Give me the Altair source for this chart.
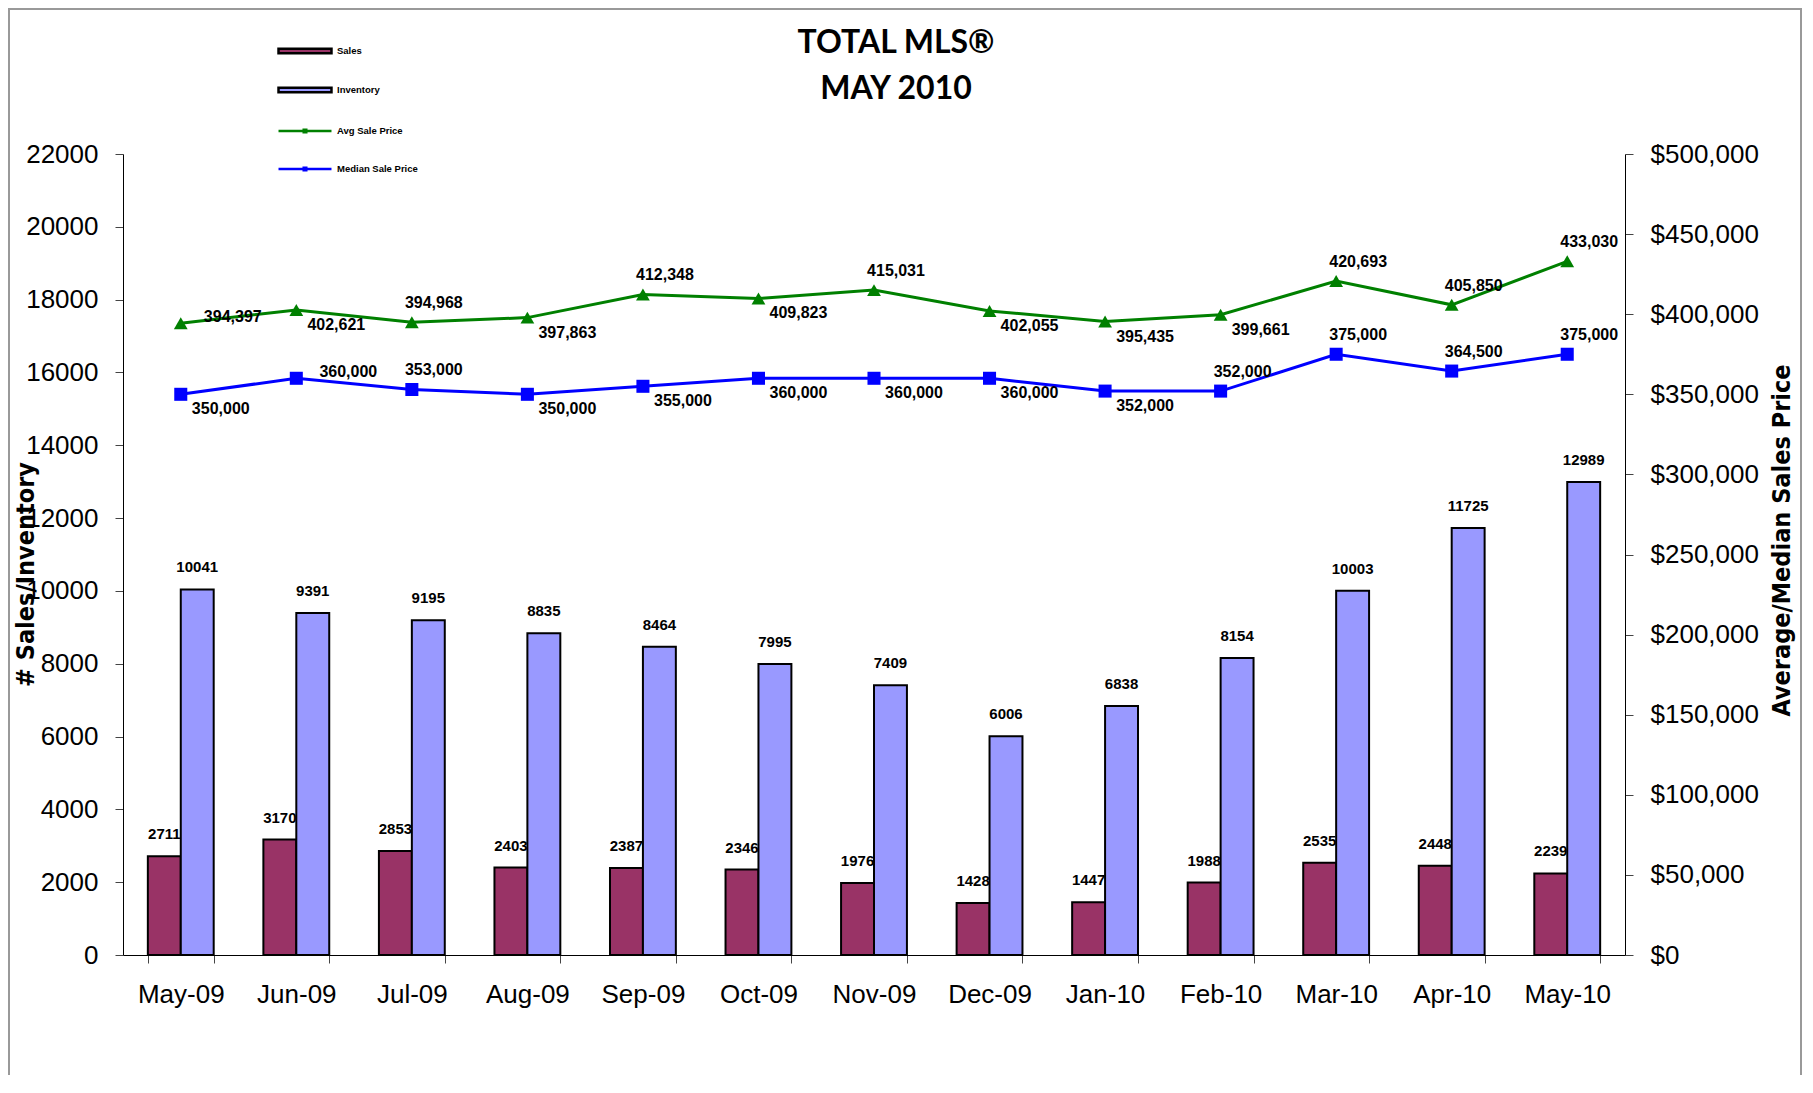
import altair as alt
import pandas as pd

months = ["May-09", "Jun-09", "Jul-09", "Aug-09", "Sep-09", "Oct-09", "Nov-09",
          "Dec-09", "Jan-10", "Feb-10", "Mar-10", "Apr-10", "May-10"]
sales = [2711, 3170, 2853, 2403, 2387, 2346, 1976, 1428, 1447, 1988, 2535, 2448, 2239]
inventory = [10041, 9391, 9195, 8835, 8464, 7995, 7409, 6006, 6838, 8154, 10003, 11725, 12989]
avg_price = [394397, 402621, 394968, 397863, 412348, 409823, 415031, 402055, 395435,
             399661, 420693, 405850, 433030]
median_price = [350000, 360000, 353000, 350000, 355000, 360000, 360000, 360000, 352000,
                352000, 375000, 364500, 375000]

# where each price label sits relative to its marker (styling only)
avg_label_side = ["right", "below", "above", "below", "above", "below", "above",
                  "below", "below", "below", "above", "above", "above"]
med_label_side = ["below", "right", "above", "below", "below", "below", "below",
                  "below", "below", "above", "above", "above", "above"]

bar_series = ["Sales", "Inventory"]
line_series = ["Avg Sale Price", "Median Sale Price"]

bars_df = pd.DataFrame(
    [{"month": m, "series": "Sales", "value": v} for m, v in zip(months, sales)]
    + [{"month": m, "series": "Inventory", "value": v} for m, v in zip(months, inventory)]
)
price_df = pd.DataFrame(
    [{"month": m, "series": "Avg Sale Price", "price": v, "side": s}
     for m, v, s in zip(months, avg_price, avg_label_side)]
    + [{"month": m, "series": "Median Sale Price", "price": v, "side": s}
       for m, v, s in zip(months, median_price, med_label_side)]
)

W, H = 1502, 801
TICK_FONT = "Liberation Sans"
TITLE_FONT = "Liberation Sans Narrow, Arial Narrow, DejaVu Sans Condensed, Liberation Sans"

x_enc = alt.X(
    "month:N", sort=months,
    scale=alt.Scale(paddingInner=0.43, paddingOuter=0.215),
    axis=alt.Axis(title=None, labelAngle=0, labelFont=TICK_FONT, labelFontSize=26,
                  labelColor="black", tickBand="extent", tickSize=8, labelPadding=18,
                  domainColor="black", tickColor="#444444", grid=False),
)

count_y = alt.Y(
    "value:Q",
    scale=alt.Scale(domain=[0, 22000], nice=False),
    axis=alt.Axis(values=list(range(0, 22001, 2000)), format="d", grid=False,
                  title="# Sales/Inventory", titleFont=TITLE_FONT, titleFontSize=25,
                  titleFontWeight="bold", titleColor="black", titleAngle=270,
                  titleX=-98, titleY=420, titleAlign="center", titleBaseline="middle",
                  labelFont=TICK_FONT, labelFontSize=26, labelColor="black",
                  tickSize=8, labelPadding=17, domainColor="black", tickColor="#444444"),
)

price_y = alt.Y(
    "price:Q",
    scale=alt.Scale(domain=[0, 500000], nice=False),
    axis=alt.Axis(orient="right", values=list(range(0, 500001, 50000)), format="$,d",
                  grid=False, title="Average/Median Sales Price", titleFont=TITLE_FONT,
                  titleFontSize=25, titleFontWeight="bold", titleColor="black",
                  titleAngle=270, titleX=156, titleY=386, titleAlign="center",
                  titleBaseline="middle", labelFont=TICK_FONT, labelFontSize=26,
                  labelColor="black", tickSize=8, labelPadding=17, domainColor="black",
                  tickColor="#444444"),
)

bar_legend = alt.Legend(
    title=None, orient="none", direction="vertical", legendX=170, legendY=-115,
    symbolType="M-2.5,-0.22H2.5V0.22H-2.5Z", symbolSize=449,
    symbolStrokeColor="black", symbolStrokeWidth=2.5, labelFont=TICK_FONT,
    labelFontSize=9.5, labelFontWeight="bold", labelColor="black", labelOffset=20,
    rowPadding=19, padding=0, symbolOpacity=1,
)
line_legend = alt.Legend(
    title=None, orient="none", direction="vertical", legendX=170, legendY=-35,
    symbolType="M-2.5,0H2.5M-0.12,-0.12H0.12V0.12H-0.12Z", symbolSize=449,
    symbolStrokeWidth=2.5, labelFont=TICK_FONT, labelFontSize=9.5,
    labelFontWeight="bold", labelColor="black", labelOffset=20, rowPadding=19,
    padding=0, symbolOpacity=1,
)

base_bars = alt.Chart(bars_df).encode(
    x=x_enc,
    xOffset=alt.XOffset("series:N", sort=bar_series,
                        scale=alt.Scale(paddingInner=0, paddingOuter=0)),
    y=count_y,
)
bars = base_bars.mark_bar(stroke="black", strokeWidth=2).encode(
    fill=alt.Fill("series:N", scale=alt.Scale(domain=bar_series,
                                              range=["#993366", "#9999FF"]),
                  legend=bar_legend)
)
bar_text = base_bars.mark_text(
    font=TICK_FONT, fontSize=15, fontWeight="bold", color="black",
    baseline="bottom", dy=-14,
).encode(text=alt.Text("value:Q", format="d"))

counts = alt.layer(bars, bar_text)

base_price = alt.Chart(price_df).encode(x=x_enc, y=price_y)
lines = base_price.mark_line(strokeWidth=3).encode(
    stroke=alt.Stroke("series:N", scale=alt.Scale(domain=line_series,
                                                  range=["#008000", "#0000FF"]),
                      legend=line_legend)
)
avg_pts = base_price.transform_filter(alt.datum.series == "Avg Sale Price").mark_point(
    shape="triangle-up", filled=True, size=190, color="#008000", opacity=1)
med_pts = base_price.transform_filter(alt.datum.series == "Median Sale Price").mark_point(
    shape="square", filled=True, size=170, color="#0000FF", opacity=1)

offsets = {"right": (52, -6), "below": (40, 15), "above": (22, -19)}
price_texts = [
    base_price.transform_filter(alt.datum.side == side).mark_text(
        font=TICK_FONT, fontSize=16, fontWeight="bold", color="black",
        align="center", baseline="middle", dx=dx, dy=dy,
    ).encode(text=alt.Text("price:Q", format=",d"))
    for side, (dx, dy) in offsets.items()
]

prices = alt.layer(lines, avg_pts, med_pts, *price_texts)

frame = alt.Chart(pd.DataFrame({"f": [0]})).mark_rect(
    fill=None, stroke="#999999", strokeWidth=2
).encode(x=alt.value(-114), x2=alt.value(1678), y=alt.value(-145), y2=alt.value(1000))

chart = alt.layer(frame, counts, prices).resolve_scale(y="independent").properties(
    width=W, height=H,
    autosize="none",
    padding={"left": 115, "top": 146, "right": 178, "bottom": 120},
    title=alt.TitleParams(
        text=["TOTAL MLS®", "MAY 2010"], font="Lato", fontSize=32, fontWeight="bold",
        color="black", anchor="middle", dx=22, offset=-98, lineHeight=46,
    ),
).configure_view(stroke=None)

chart.save("out.html", embed_options={"renderer": "svg", "actions": False})
